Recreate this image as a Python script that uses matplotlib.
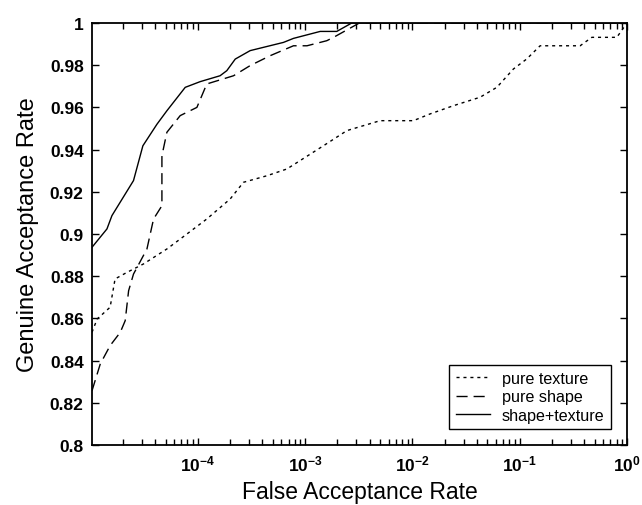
import matplotlib
matplotlib.use("Agg")
import matplotlib.pyplot as plt
import numpy as np
from matplotlib.ticker import FuncFormatter, LogLocator, MultipleLocator

plt.rcParams['font.family'] = ['Liberation Sans', 'DejaVu Sans']
plt.rcParams['mathtext.fontset'] = 'custom'
plt.rcParams['mathtext.rm'] = 'Liberation Sans:bold'
plt.rcParams['mathtext.it'] = 'Liberation Sans:bold'
plt.rcParams['mathtext.bf'] = 'Liberation Sans:bold'
plt.rcParams['mathtext.default'] = 'rm'

# pure texture (dotted)
far_texture = [1.03e-5, 1.15e-5, 1.52e-5, 1.69e-5, 2.18e-5, 3.11e-5, 5.14e-5, 6.84e-5,
               1.21e-4, 2.0e-4, 2.66e-4, 4.40e-4, 6.75e-4, 1.5e-3, 2.45e-3, 5.0e-3,
               1.02e-2, 1.46e-2, 2.41e-2, 4.27e-2, 6.12e-2, 8.74e-2, 0.116, 0.155,
               0.366, 0.470, 0.804, 1.0]
gar_texture = [0.8534, 0.8597, 0.8653, 0.8787, 0.8818, 0.8858, 0.8929, 0.8976,
               0.9071, 0.9166, 0.9245, 0.9276, 0.9308, 0.9420, 0.9490, 0.9537,
               0.9537, 0.9569, 0.9608, 0.9648, 0.9695, 0.9782, 0.9829, 0.9892,
               0.9892, 0.9932, 0.9932, 1.0]

# pure shape (dashed)
far_shape = [1.03e-5, 1.23e-5, 1.52e-5, 1.89e-5, 2.10e-5, 2.26e-5, 2.51e-5, 3.35e-5,
             3.86e-5, 4.62e-5, 4.62e-5, 5.14e-5, 6.84e-5, 9.79e-5, 1.21e-4, 2.15e-4,
             3.07e-4, 4.72e-4, 7.78e-4, 1.04e-3, 1.59e-3, 1.84e-3, 2.72e-3, 3.2e-3, 1.0]
gar_shape = [0.8257, 0.8384, 0.8471, 0.8534, 0.8589, 0.8731, 0.8810, 0.8929,
             0.9071, 0.9134, 0.9371, 0.9482, 0.9561, 0.9600, 0.9711, 0.9750,
             0.9798, 0.9845, 0.9892, 0.9892, 0.9916, 0.9932, 0.998, 1.0, 1.0]

# shape + texture (solid)
far_both = [1.03e-5, 1.42e-5, 1.58e-5, 2.51e-5, 3.07e-5, 4.15e-5, 5.14e-5, 7.62e-5,
            1.05e-4, 1.61e-4, 1.86e-4, 2.23e-4, 3.07e-4, 6.28e-4, 7.78e-4, 1.38e-3,
            1.97e-3, 2.72e-3, 1.0]
gar_both = [0.8937, 0.9024, 0.9087, 0.9253, 0.9418, 0.9520, 0.9584, 0.9695,
            0.9722, 0.9750, 0.9774, 0.9829, 0.9869, 0.9908, 0.9927, 0.9960,
            0.9960, 1.0, 1.0]

fig = plt.figure(figsize=(6.42, 5.06), dpi=100)
ax = fig.add_axes([0.1433, 0.1186, 0.8333, 0.834])

ax.plot(far_texture, gar_texture, color='black', lw=1.0, dashes=(2.2, 2.8), label='pure texture')
ax.plot(far_shape, gar_shape, color='black', lw=1.0, dashes=(8, 4.3), label='pure shape')
ax.plot(far_both, gar_both, color='black', lw=1.0, label='shape+texture')

ax.set_xscale('log')
ax.set_xlim(1.03e-5, 1.0)
ax.set_ylim(0.8, 1.0)
ax.xaxis.set_major_locator(LogLocator(base=10, numticks=10))
ax.xaxis.set_minor_locator(LogLocator(base=10, subs=np.arange(2, 10), numticks=20))
ax.yaxis.set_major_locator(MultipleLocator(0.02))
ax.yaxis.set_major_formatter(FuncFormatter(lambda v, p: '%g' % round(v, 2)))
ax.xaxis.set_major_formatter(FuncFormatter(lambda v, p: r'$10^{%d}$' % round(np.log10(v))))

for s in ax.spines.values():
    s.set_linewidth(1.3)
ax.tick_params(which='both', direction='in', top=True, right=True, width=1.0)
ax.tick_params(which='major', length=5, labelsize=12.5, pad=6)
ax.tick_params(which='minor', length=4)
for lab in ax.get_yticklabels():
    lab.set_fontweight('bold')

ax.set_xlabel('False Acceptance Rate', fontsize=16.5, labelpad=5)
ax.set_ylabel('Genuine Acceptance Rate', fontsize=17, labelpad=8)

leg = ax.legend(loc='lower right', bbox_to_anchor=(0.970, 0.038), fontsize=11.6,
                fancybox=False, edgecolor='black', framealpha=1, borderaxespad=0,
                handlelength=2.1, handletextpad=0.75, labelspacing=0.2,
                borderpad=0.4)
leg.get_frame().set_linewidth(1.0)

fig.savefig('out.png', dpi=100)
